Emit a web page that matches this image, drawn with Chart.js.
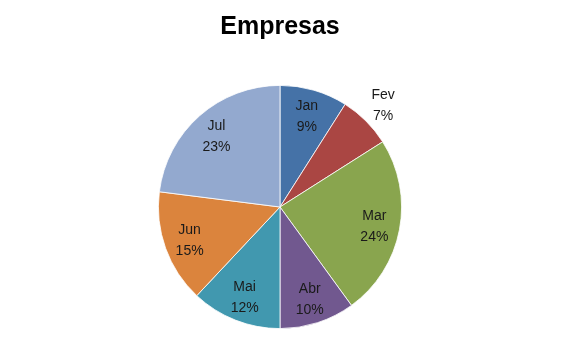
<!DOCTYPE html>
<html>
<head>
<meta charset="utf-8">
<script src="https://cdn.jsdelivr.net/npm/chart.js@4/dist/chart.umd.min.js"></script>
<style>
  html, body { margin: 0; padding: 0; background: #fff; }
  #wrap { width: 571px; height: 358px; position: relative; }
</style>
</head>
<body>
<div id="wrap"><canvas id="pieChart"></canvas></div>
<script>
// Dades llegides del gràfic
const meses = ['Jan', 'Fev', 'Mar', 'Abr', 'Mai', 'Jun', 'Jul'];
const percentuais = [9, 7, 24, 10, 12, 15, 23];
const cores = ['#4572A7', '#AA4643', '#89A54E', '#71588F', '#4198AF', '#DB843D', '#93A9CF'];

// Etiquetes de dades: nom + percentatge, dins o fora de la porció
const pieLabels = {
  id: 'pieLabels',
  afterDatasetsDraw(chart) {
    const ctx = chart.ctx;
    const meta = chart.getDatasetMeta(0);
    const total = percentuais.reduce((a, b) => a + b, 0);
    ctx.save();
    ctx.font = '14px "Liberation Sans", Arial, sans-serif';
    ctx.fillStyle = '#1a1a1a';
    ctx.textAlign = 'center';
    ctx.textBaseline = 'middle';
    meta.data.forEach((arc, i) => {
      const p = arc.getProps(['x', 'y', 'startAngle', 'endAngle', 'outerRadius'], true);
      const mid = (p.startAngle + p.endAngle) / 2;
      const pct = percentuais[i] / total * 100;
      const dist = pct < 8 ? p.outerRadius * 1.2 : p.outerRadius * 0.79;
      const x = p.x + Math.cos(mid) * dist;
      const y = p.y + Math.sin(mid) * dist;
      ctx.fillText(meses[i], x, y - 9);
      ctx.fillText(Math.round(pct) + '%', x, y + 12);
    });
    ctx.restore();
  }
};

new Chart(document.getElementById('pieChart'), {
  type: 'pie',
  data: {
    labels: meses,
    datasets: [{
      data: percentuais,
      backgroundColor: cores,
      borderColor: '#ffffff',
      borderWidth: 0.8
    }]
  },
  options: {
    responsive: true,
    maintainAspectRatio: false,
    animation: false,
    layout: { padding: { left: 0, right: 11, top: 0, bottom: 29 } },
    plugins: {
      legend: { display: false },
      tooltip: { enabled: false },
      title: {
        display: true,
        text: 'Empresas',
        color: '#000',
        font: { family: '"Liberation Sans", Arial, sans-serif', size: 25, weight: 'bold' },
        padding: { top: 12, bottom: 43 }
      }
    }
  },
  plugins: [pieLabels]
});
</script>
</body>
</html>
